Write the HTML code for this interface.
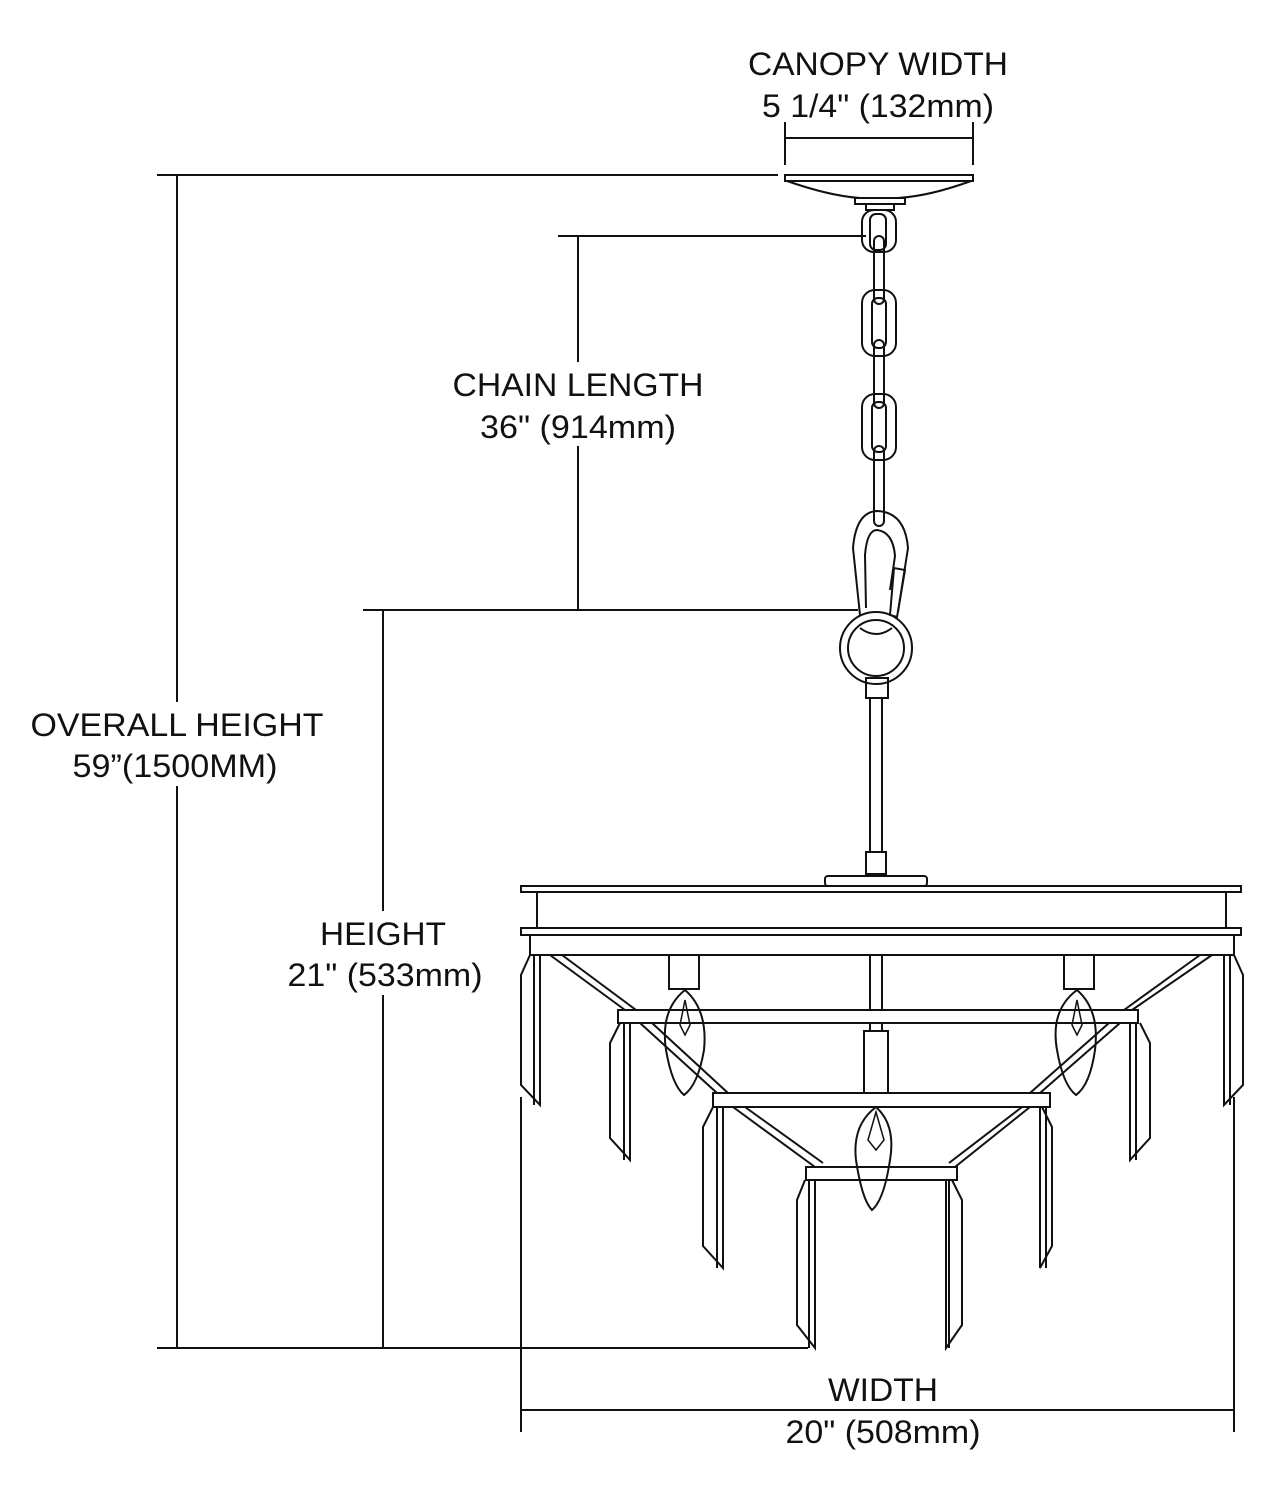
<!DOCTYPE html>
<html><head><meta charset="utf-8"><style>
html,body{margin:0;padding:0;background:#fff;}
svg{display:block;}
text{font-family:"Liberation Sans",sans-serif;font-size:32px;fill:#111;}
</style></head><body>
<svg width="1265" height="1500" viewBox="0 0 1265 1500" xmlns="http://www.w3.org/2000/svg">
<g stroke="#111" stroke-width="2" fill="none">
<!-- dimension lines -->
<line x1="157" y1="175" x2="778" y2="175"/>
<line x1="157" y1="1348" x2="808" y2="1348"/>
<line x1="177" y1="175" x2="177" y2="1348"/>
<line x1="558" y1="236" x2="866" y2="236"/>
<line x1="363" y1="610" x2="858" y2="610"/>
<line x1="578" y1="236" x2="578" y2="610"/>
<line x1="383" y1="610" x2="383" y2="1348"/>
<line x1="521" y1="1097" x2="521" y2="1432"/>
<line x1="1234" y1="1097" x2="1234" y2="1432"/>
<line x1="521" y1="1410" x2="1234" y2="1410"/>
<line x1="785" y1="122" x2="785" y2="165"/>
<line x1="973" y1="122" x2="973" y2="165"/>
<line x1="785" y1="138" x2="973" y2="138"/>
<!-- canopy -->
<rect x="785" y="175" width="188" height="6"/>
<path d="M787 181 Q830 196 860 198 L898 198 Q930 196 971 181"/>
<rect x="855" y="198" width="50" height="6"/>
<rect x="866" y="204" width="28" height="6"/>
<!-- top loop -->
<rect x="862" y="210" width="34" height="42" rx="12"/>
<rect x="870" y="214" width="16" height="36" rx="6"/>
<!-- chain -->
<rect x="874" y="236" width="10" height="68" rx="5"/>
<rect x="862" y="290" width="34" height="66" rx="13"/>
<rect x="872" y="298" width="14" height="50" rx="6"/>
<rect x="874" y="340" width="10" height="68" rx="5"/>
<rect x="862" y="394" width="34" height="66" rx="13"/>
<rect x="872" y="402" width="14" height="50" rx="6"/>
<rect x="874" y="446" width="10" height="80" rx="5"/>
<!-- carabiner -->
<path d="M860 615 L853 548 Q856 512 877 511 Q905 512 908 548 L898 612"/>
<path d="M866 608 L865 555 Q867 530 877 530 Q893 532 895 556 L890 590"/>
<path d="M894 568 L890 615 L897 617 L905 570 Z"/>
<!-- ring -->
<circle cx="876" cy="648" r="36"/>
<circle cx="876" cy="648" r="28"/>
<path d="M860 628 Q876 640 892 628"/>
<rect x="866" y="678" width="22" height="20"/>
<!-- rod -->
<line x1="870" y1="698" x2="870" y2="852"/>
<line x1="882" y1="698" x2="882" y2="852"/>
<rect x="866" y="852" width="20" height="22"/>
<rect x="825" y="876" width="102" height="10" rx="3"/>
<!-- top frame -->
<rect x="521" y="886" width="720" height="6"/>
<rect x="537" y="892" width="689" height="36"/>
<rect x="521" y="928" width="720" height="7"/>
<rect x="530" y="935" width="704" height="20"/>
<!-- diagonal struts -->
<path d="M550 955 L625 1010 M562 955 L636 1010"/>
<path d="M1212 955 L1132 1010 M1200 955 L1124 1010"/>
<path d="M640 1023 L717 1093 M652 1023 L728 1093"/>
<path d="M1120 1023 L1040 1093 M1109 1023 L1030 1093"/>
<path d="M733 1107 L815 1167 M745 1107 L823 1163"/>
<path d="M1022 1107 L949 1163 M1030 1107 L955 1167"/>
<!-- center rods -->
<rect x="870" y="955" width="12" height="55"/>
<rect x="870" y="1023" width="12" height="8"/>
<rect x="864" y="1031" width="24" height="62"/>
<!-- candle cups -->
<rect x="669" y="955" width="30" height="34"/>
<rect x="1064" y="955" width="30" height="34"/>
<!-- bulbs -->
<path d="M685 990 Q660 1010 666 1050 Q672 1085 684 1095 Q698 1085 704 1050 Q708 1010 685 990Z"/>
<path d="M1077 990 Q1050 1010 1057 1050 Q1063 1085 1076 1095 Q1090 1085 1095 1050 Q1100 1010 1077 990Z"/>
<path d="M876 1107 Q852 1125 856 1160 Q862 1200 872 1210 Q884 1200 890 1160 Q896 1125 876 1107Z"/>
<path d="M685 1000 L680 1025 L685 1035 L690 1025Z" stroke-width="1.5"/>
<path d="M1077 1000 L1072 1025 L1077 1035 L1082 1025Z" stroke-width="1.5"/>
<path d="M876 1112 L868 1140 L876 1150 L884 1140Z" stroke-width="1.5"/>
<!-- tier bars -->
<rect x="618" y="1010" width="520" height="13"/>
<rect x="713" y="1093" width="337" height="14"/>
<rect x="806" y="1167" width="151" height="13"/>
<!-- crystals -->
<path d="M530 955 L521 975 L521 1085 L540 1105 L540 955"/>
<path d="M1234 955 L1243 975 L1243 1085 L1224 1105 L1224 955"/>
<path d="M534 955 L534 1105"/>
<path d="M1230 955 L1230 1105"/>
<path d="M620 1023 L610 1043 L610 1138 L630 1160 L630 1023"/>
<path d="M1140 1023 L1150 1043 L1150 1138 L1130 1160 L1130 1023"/>
<path d="M624 1023 L624 1160 M1136 1023 L1136 1160"/>
<path d="M713 1107 L703 1127 L703 1246 L723 1268 L723 1107"/>
<path d="M1042 1107 L1052 1127 L1052 1246 L1040 1268 L1040 1107"/>
<path d="M717 1107 L717 1268 M1046 1107 L1046 1268"/>
<path d="M805 1180 L797 1200 L797 1325 L815 1348 L815 1180"/>
<path d="M952 1180 L962 1200 L962 1325 L946 1348 L946 1180"/>
<path d="M809 1180 L809 1348 M949 1180 L949 1348"/>
</g>
<!-- label backgrounds -->
<g fill="#fff">
<rect x="448" y="362" width="260" height="84"/>
<rect x="26" y="702" width="302" height="84"/>
<rect x="284" y="911" width="202" height="84"/>
</g>
<g text-anchor="middle">
<text x="878" y="75" textLength="260" lengthAdjust="spacingAndGlyphs">CANOPY WIDTH</text>
<text x="878" y="117" textLength="232" lengthAdjust="spacingAndGlyphs">5 1/4" (132mm)</text>
<text x="578" y="396" textLength="251" lengthAdjust="spacingAndGlyphs">CHAIN LENGTH</text>
<text x="578" y="438" textLength="196" lengthAdjust="spacingAndGlyphs">36" (914mm)</text>
<text x="177" y="736" textLength="293" lengthAdjust="spacingAndGlyphs">OVERALL HEIGHT</text>
<text x="175" y="777" textLength="205" lengthAdjust="spacingAndGlyphs">59”(1500MM)</text>
<text x="383" y="945" textLength="126" lengthAdjust="spacingAndGlyphs">HEIGHT</text>
<text x="385" y="986" textLength="195" lengthAdjust="spacingAndGlyphs">21" (533mm)</text>
<text x="883" y="1401" textLength="110" lengthAdjust="spacingAndGlyphs">WIDTH</text>
<text x="883" y="1443" textLength="195" lengthAdjust="spacingAndGlyphs">20" (508mm)</text>
</g>
</svg>
</body></html>
